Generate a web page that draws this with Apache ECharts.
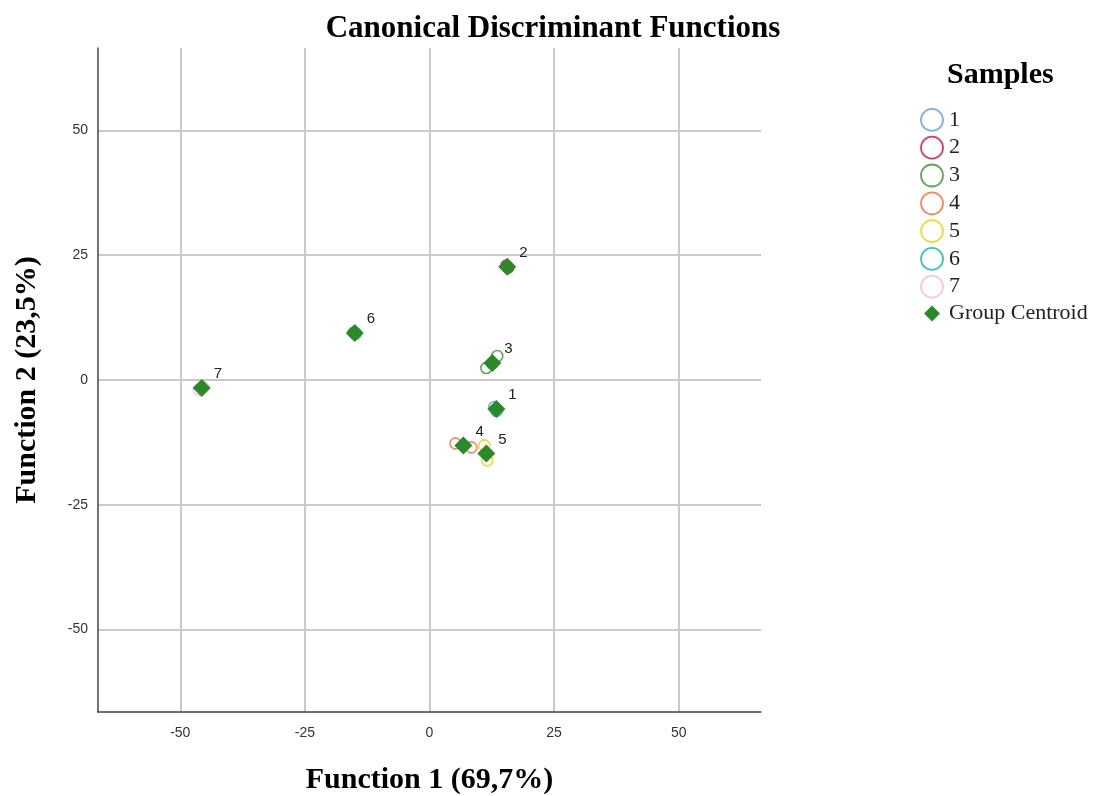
<!DOCTYPE html>
<html>
<head>
<meta charset="utf-8">
<script src="https://cdn.jsdelivr.net/npm/echarts@6/dist/echarts.min.js"></script>
<style>
  html, body { margin: 0; padding: 0; background: #fff; }
  #chart { width: 1096px; height: 796px; }
</style>
</head>
<body>
<div id="chart"></div>
<script>
// Canonical discriminant scores per sample group [Function 1, Function 2]
const groupNames = ['1', '2', '3', '4', '5', '6', '7'];
const groupColors = ['#7fb0ee', '#e23a5e', '#5caa5c', '#f78a5c', '#e9dd40', '#3ec6b2', '#f9c6dc'];
const group1 = [[13.0, -5.4], [13.6, -6.0], [13.4, -6.2]];
const group2 = [[15.4, 22.9], [15.8, 22.5], [15.6, 22.7]];
const group3 = [[11.4, 2.4], [13.6, 4.8], [12.6, 3.3]];
const group4 = [[5.2, -12.7], [8.4, -13.5], [6.8, -13.1]];
const group5 = [[11.0, -13.1], [11.6, -16.1], [11.5, -14.8]];
const group6 = [[-15.2, 9.5], [-14.8, 9.3], [-15.0, 9.4]];
const group7 = [[-46.3, -1.9], [-45.4, -1.4], [-45.7, -1.6]];
const groups = [group1, group2, group3, group4, group5, group6, group7];

// Group centroids, in the same order as groupNames
const centroids = [[13.4, -5.8], [15.6, 22.7], [12.6, 3.4], [6.8, -13.1], [11.4, -14.7], [-15.0, 9.4], [-45.7, -1.6]];

const tickValues = [-50, -25, 0, 25, 50];
const axisExtent = [-66.5, 66.5];

const centroidColor = '#2a8a2a';
const serif = '"Liberation Serif", "DejaVu Serif", serif';
const sans = '"Liberation Sans", Arial, sans-serif';

const sampleSeries = groups.map((pts, i) => ({
  name: groupNames[i],
  type: 'scatter',
  data: pts,
  symbol: 'circle',
  symbolSize: 11,
  itemStyle: { color: 'rgba(255,255,255,0)', borderColor: groupColors[i], borderWidth: 1.6, opacity: 1 },
  z: 2
}));

const centroidSeries = {
  name: 'Group Centroid',
  type: 'scatter',
  data: centroids.map((c, i) => ({ value: c, name: groupNames[i] })),
  symbol: 'diamond',
  symbolSize: [18, 18],
  itemStyle: { color: centroidColor, opacity: 1 },
  label: {
    show: true,
    position: 'right',
    offset: [-2, -14],
    formatter: p => p.name,
    fontFamily: sans,
    fontSize: 15,
    color: '#222'
  },
  z: 3
};

const axisCommon = {
  type: 'value',
  min: axisExtent[0],
  max: axisExtent[1],
  axisLine: { show: true, onZero: false, lineStyle: { color: '#444', width: 1.5 } },
  axisTick: { show: false, customValues: tickValues },
  axisLabel: { customValues: tickValues, fontFamily: sans, fontSize: 14, color: '#333' },
  splitLine: { show: true, lineStyle: { color: '#cacaca', width: 2 } }
};

const nameStyle = { fontFamily: serif, fontWeight: 'bold', fontSize: 30, color: '#000' };

const chart = echarts.init(document.getElementById('chart'));
chart.setOption({
  animation: false,
  backgroundColor: '#fff',
  title: {
    text: 'Canonical Discriminant Functions',
    left: 548,
    textAlign: 'center',
    top: 8,
    textStyle: { fontFamily: serif, fontWeight: 'bold', fontSize: 31, color: '#000' }
  },
  grid: { left: 98, right: 335, top: 48, bottom: 84, containLabel: false, outerBoundsMode: 'none' },
  xAxis: Object.assign({}, axisCommon, {
    name: 'Function 1 (69,7%)',
    nameLocation: 'middle',
    nameGap: 53,
    nameTextStyle: nameStyle,
    axisLabel: Object.assign({}, axisCommon.axisLabel, { margin: 14 })
  }),
  yAxis: Object.assign({}, axisCommon, {
    name: 'Function 2 (23,5%)',
    nameLocation: 'middle',
    nameGap: 56,
    nameTextStyle: nameStyle,
    axisLabel: Object.assign({}, axisCommon.axisLabel, { margin: 10 })
  }),
  legend: {
    orient: 'vertical',
    left: 915,
    top: 103,
    itemWidth: 24,
    itemHeight: 22,
    itemGap: 4,
    textStyle: { fontFamily: serif, fontSize: 22, lineHeight: 22, color: '#222' },
    data: groupNames.map((n, i) => ({
      name: n,
      icon: 'circle',
      itemStyle: { color: 'rgba(255,255,255,0)', borderColor: groupColors[i], borderWidth: 1.8 }
    })).concat([{
      name: 'Group Centroid',
      icon: 'path://M0,0L0,0M24,22L24,22M12,3L20,11L12,19L4,11Z',
      itemStyle: { color: centroidColor }
    }])
  },
  graphic: [{
    type: 'text',
    left: 947,
    top: 60,
    style: { text: 'Samples', fontFamily: serif, fontWeight: 'bold', fontSize: 30, fill: '#000' }
  }],
  series: sampleSeries.concat([centroidSeries])
});
</script>
</body>
</html>
